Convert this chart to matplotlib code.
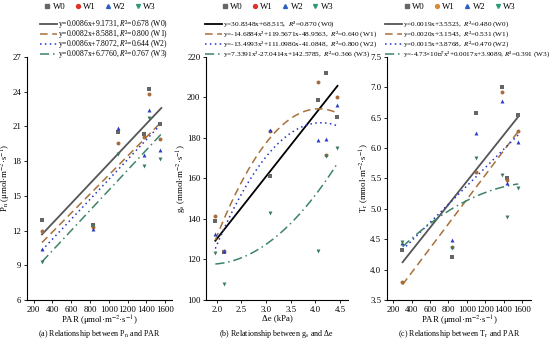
import numpy as np
import matplotlib
matplotlib.use("Agg")
import matplotlib.pyplot as plt
from matplotlib.lines import Line2D

plt.rcParams["font.family"] = ["Liberation Serif", "DejaVu Serif"]
plt.rcParams["mathtext.fontset"] = "stix"

SERIES = ["W0", "W1", "W2", "W3"]

# panel (a): Pn vs PAR
par_a = [295, 835, 1100, 1380, 1425, 1545]
pn = {
    "W0": [12.9, 12.5, 20.5, 20.3, 24.2, 21.2],
    "W1": [12.0, 12.3, 19.6, 20.1, 23.8, 19.9],
    "W2": [10.4, 12.1, 20.9, 18.5, 22.4, 19.0],
    "W3": [9.3, 12.4, 18.6, 17.6, 21.7, 18.2],
}
coef_a = {  # linear fits, highest power first
    "W0": [0.0086, 9.1731],
    "W1": [0.0082, 8.5881],
    "W2": [0.0086, 7.8072],
    "W3": [0.0087, 6.7760],
}
labels_a = [
    "y=0.0086x+9.1731, $R$²=0.678 (W0)",
    "y=0.0082x+8.5881, $R$²=0.800 (W1)",
    "y=0.0086x+7.8072, $R$²=0.644 (W2)",
    "y=0.0087x+6.7760, $R$²=0.767 (W3)",
]

# panel (b): gs vs delta e
de = [1.97, 2.15, 3.08, 4.05, 4.21, 4.43]
gs = {
    "W0": [139.0, 123.5, 161.0, 198.5, 212.0, 190.5],
    "W1": [141.5, 124.0, 183.5, 207.5, 171.5, 200.0],
    "W2": [132.5, 124.0, 184.0, 179.0, 179.5, 196.5],
    "W3": [123.0, 108.0, 143.0, 124.0, 171.0, 175.0],
}
coef_b = {
    "W0": [30.8348, 68.515],
    "W1": [-14.6884, 119.5671, -48.9563],
    "W2": [-13.4993, 111.0980, -41.0848],
    "W3": [7.3391, -27.0414, 142.5785],
}
labels_b = [
    "y=30.8348x+68.515,  $R$²=0.870 (W0)",
    "y=-14.6884x²+119.5671x-48.9563,  $R$²=0.640 (W1)",
    "y=-13.4993x²+111.0980x-41.0848,  $R$²=0.800 (W2)",
    "y=7.3391x²-27.0414x+142.5785,  $R$²=0.366 (W3)",
]

# panel (c): Tr vs PAR
par_c = [295, 835, 1100, 1385, 1437, 1560]
tr = {
    "W0": [4.32, 4.20, 6.57, 7.00, 5.50, 6.55],
    "W1": [3.80, 4.38, 5.60, 6.92, 5.48, 6.28],
    "W2": [4.43, 4.49, 6.25, 6.77, 5.43, 6.10],
    "W3": [4.45, 4.35, 5.84, 5.56, 4.86, 5.35],
}
coef_c = {
    "W0": [0.0019, 3.5523],
    "W1": [0.0020, 3.1543],
    "W2": [0.0015, 3.8768],
    "W3": [-4.73e-7, 0.0017, 3.9089],
}
labels_c = [
    "y=0.0019x+3.5523,  $R$²=0.480 (W0)",
    "y=0.0020x+3.1543,  $R$²=0.531 (W1)",
    "y=0.0015x+3.8768,  $R$²=0.470 (W2)",
    "y=-4.73×10⁻⁷x²+0.0017x+3.9089, $R$²=0.391 (W3)",
]

MARKERS = {"W0": "s", "W1": "o", "W2": "^", "W3": "v"}
PT_COLORS = {"W0": "#666666", "W1": "#a86c3c", "W2": "#2a3fc0", "W3": "#3c7a5e"}
LEG_COLORS = {"W0": "#666666", "W1": "#e0302a", "W2": "#2a5fc0", "W3": "#2a9a78"}
LINE_COLORS = {"W0": "#555555", "W1": "#a8703a", "W2": "#2233cc", "W3": "#3d8466"}
LINE_STYLES = {"W0": "-", "W1": (0, (5, 3)), "W2": (0, (1, 2.2)), "W3": (0, (6, 2.5, 1, 2.5))}

FS = 6.3
W, H = 550, 340


def draw_panel(ax, xs, data, coefs, labels, x_range, w0_color, leg_colors, leg_px, leg_fs):
    for s in SERIES:
        ax.scatter(xs, data[s], marker=MARKERS[s], s=8, color=PT_COLORS[s],
                   linewidths=0, zorder=3)
    xx = np.linspace(x_range[0], x_range[1], 100)
    for i, s in enumerate(SERIES):
        c = w0_color if s == "W0" else LINE_COLORS[s]
        lw = 1.3 if s == "W0" else 1.1
        ax.plot(xx, np.polyval(coefs[s], xx), color=c, ls=LINE_STYLES[s], lw=lw, zorder=2)
        # fit legend row, placed by pixel
        y = 1 - (24 + 10 * i) / H
        ax.figure.add_artist(Line2D([leg_px / W, (leg_px + 17) / W], [y, y], color=c,
                                    ls=LINE_STYLES[s], lw=lw, transform=ax.figure.transFigure))
        ax.figure.text((leg_px + 18) / W, y, labels[i], fontsize=leg_fs, va="center", ha="left")

    for side in ["top", "right"]:
        ax.spines[side].set_visible(False)
    ax.tick_params(labelsize=FS, length=2.5, width=0.6, pad=1.5)
    ax.spines["left"].set_linewidth(0.8)
    ax.spines["bottom"].set_linewidth(0.8)

    # marker legend on top
    mk = [Line2D([], [], marker=MARKERS[s], ls="", color=leg_colors[s], markersize=2.8)
          for s in SERIES]
    ax.legend(mk, SERIES, loc="center", bbox_to_anchor=(0.5, 1.205), ncol=4,
              frameon=False, fontsize=FS, handletextpad=0.1, columnspacing=0.9,
              borderaxespad=0, borderpad=0, handlelength=1.0)


fig = plt.figure(figsize=(5.5, 3.4), dpi=100)
ax1 = fig.add_axes([0.049, 0.1176, 0.264, 0.715])
ax2 = fig.add_axes([0.3745, 0.1176, 0.258, 0.715])
ax3 = fig.add_axes([0.7036, 0.1176, 0.262, 0.715])

# panel (a)
draw_panel(ax1, par_a, pn, coef_a, labels_a, (290, 1560), "#555555", LEG_COLORS, 40, 5.5)
ax1.set_xlim(130, 1675)
ax1.set_ylim(6, 27)
ax1.set_xticks(range(200, 1601, 200))
ax1.set_yticks(range(6, 28, 3))
ax1.set_xlabel("PAR (μmol·m$^{-2}$·s$^{-1}$)", fontsize=FS, labelpad=0.5)
ax1.set_ylabel("P$_\\mathrm{n}$ (μmol·m$^{-2}$·s$^{-1}$)", fontsize=FS)
ax1.yaxis.set_label_coords(-0.097, 0.5)

# panel (b)
draw_panel(ax2, de, gs, coef_b, labels_b, (1.97, 4.45), "#000000", LEG_COLORS, 205, 5.3)
ax2.set_xlim(1.78, 4.66)
ax2.set_ylim(100, 220)
ax2.set_xticks(np.arange(2.0, 4.51, 0.5))
ax2.set_xticklabels(["2.0", "2.5", "3.0", "3.5", "4.0", "4.5"])
ax2.set_yticks(range(100, 221, 20))
ax2.set_xlabel("Δe (kPa)", fontsize=FS, labelpad=0.5)
ax2.set_ylabel("g$_\\mathrm{s}$ (mmol·m$^{-2}$·s$^{-1}$)", fontsize=FS)
ax2.yaxis.set_label_coords(-0.12, 0.5)

# panel (c)
leg_c = dict(LEG_COLORS)
leg_c["W1"] = "#d98a3a"
draw_panel(ax3, par_c, tr, coef_c, labels_c, (300, 1560), "#555555", leg_c, 385, 5.2)
ax3.set_xlim(130, 1700)
ax3.set_ylim(3.5, 7.5)
ax3.set_xticks(range(200, 1601, 200))
ax3.set_yticks(np.arange(3.5, 7.51, 0.5))
ax3.set_xlabel("PAR (μmol·m$^{-2}$·s$^{-1}$)", fontsize=FS, labelpad=0.5)
ax3.set_ylabel("T$_\\mathrm{r}$ (mmol·m$^{-2}$·s$^{-1}$)", fontsize=FS)
ax3.yaxis.set_label_coords(-0.108, 0.5)

captions = [
    "(a) Relationship between P$_\\mathrm{n}$ and PAR",
    "(b) Relationship between g$_\\mathrm{s}$ and Δe",
    "(c) Relationship between T$_\\mathrm{r}$ and PAR",
]
for ax, cap in zip([ax1, ax2, ax3], captions):
    pos = ax.get_position()
    fig.text(pos.x0 + pos.width / 2, 0.019, cap, ha="center", va="center", fontsize=5.8)

fig.savefig("out.png", dpi=100)
